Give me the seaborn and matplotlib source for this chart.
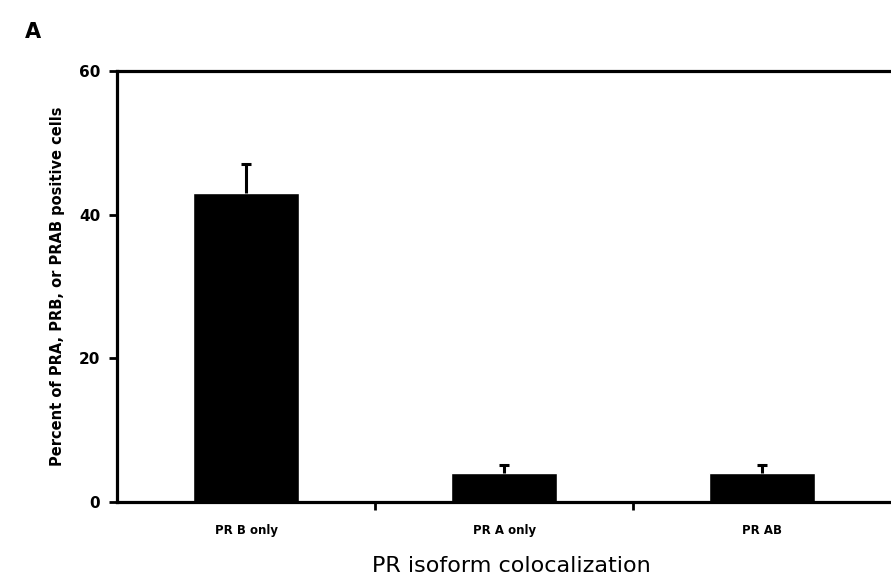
import matplotlib
matplotlib.use("Agg")
import matplotlib.pyplot as plt
import pandas as pd
import seaborn as sns

categories = ["PR B only", "PR A only", "PR AB"]
percent = [43.0, 4.0, 4.0]
sem_upper = [4.1, 1.2, 1.2]
y_ticks = [0, 20, 40, 60]


def main() -> None:
    sns.set_style("white")
    plt.rcParams["font.family"] = ["DejaVu Sans"]
    plt.rcParams["text.color"] = "black"
    plt.rcParams["axes.labelcolor"] = "black"
    plt.rcParams["xtick.color"] = "black"
    plt.rcParams["ytick.color"] = "black"

    df = pd.DataFrame({"group": categories, "value": percent})

    fig = plt.figure(figsize=(8.91, 5.81), dpi=100)
    ax = fig.add_axes([0.1313, 0.136, 0.869, 0.742])

    sns.barplot(data=df, x="group", y="value", order=categories, color="black",
                width=0.41, errorbar=None, saturation=1, ax=ax)

    # upper-only error bars (stem + cap)
    xs = list(range(len(categories)))
    tops = [p + e for p, e in zip(percent, sem_upper)]
    ax.vlines(xs, percent, tops, color="black", lw=2.2)
    ax.hlines(tops, [x - 0.02 for x in xs], [x + 0.02 for x in xs], color="black", lw=2.2)

    ax.set_xlim(-0.5, len(categories) - 0.5)
    ax.set_ylim(0, 60)
    ax.set_yticks(y_ticks)
    ax.set_yticklabels([str(t) for t in y_ticks], fontsize=11, fontweight="bold")
    ax.set_xticks(xs)
    ax.set_xticklabels(categories, fontsize=8.5, fontweight="bold")
    ax.set_xticks([0.5, 1.5], minor=True)
    ax.tick_params(axis="x", which="major", length=0, pad=16)
    ax.tick_params(axis="x", which="minor", bottom=True, direction="out",
                   length=6, width=2, color="black")
    ax.tick_params(axis="y", direction="out", length=6, width=2, color="black",
                   pad=6, left=True)

    for side in ["left", "bottom", "top"]:
        ax.spines[side].set_visible(True)
        ax.spines[side].set_linewidth(2.3)
        ax.spines[side].set_color("black")
    ax.spines["right"].set_visible(False)

    ax.set_xlabel("PR isoform colocalization", fontsize=16, labelpad=10)
    ax.xaxis.set_label_coords(0.51, -0.125)
    ax.set_ylabel("Percent of PRA, PRB, or PRAB positive cells", fontsize=10.5,
                  fontweight="bold", labelpad=10)

    fig.text(0.028, 0.935, "A", fontsize=15, fontweight="bold")

    fig.savefig("out.png", dpi=100)
    plt.close(fig)


if __name__ == "__main__":
    main()
